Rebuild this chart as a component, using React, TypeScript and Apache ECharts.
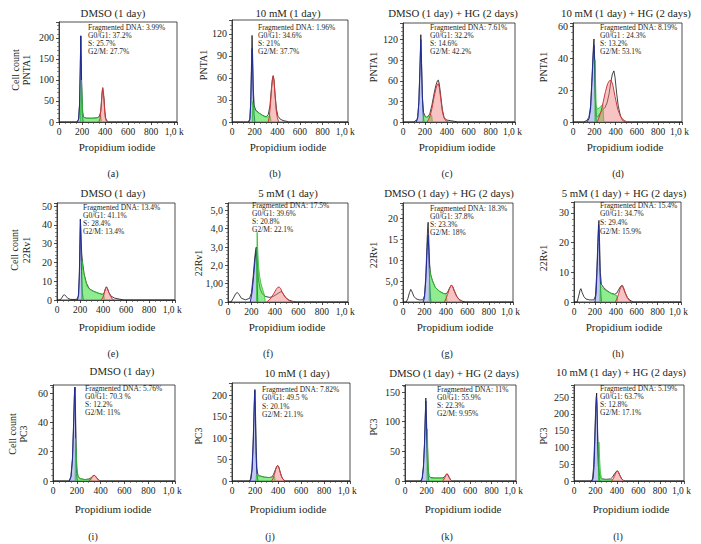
import React, { useEffect, useRef } from "react";
import * as echarts from "echarts";

// ---------------- DATA ----------------
const panelLetters = ["a", "b", "c", "d", "e", "f", "g", "h", "i", "j", "k", "l"];
const titles = [
  "DMSO (1 day)", "10 mM (1 day)", "DMSO (1 day) + HG (2 days)", "10 mM (1 day) + HG (2 days)",
  "DMSO (1 day)", "5 mM (1 day)", "DMSO (1 day) + HG (2 days)", "5 mM (1 day) + HG (2 days)",
  "DMSO (1 day)", "10 mM (1 day)", "DMSO (1 day) + HG (2 days)", "10 mM (1 day) + HG (2 days)",
];
const yNames = [
  "Cell count\nPNTA1", "PNTA1", "PNTA1", "PNTA1",
  "Cell count\n22Rv1", "22Rv1", "22Rv1", "22Rv1",
  "Cell count\nPC3", "PC3", "PC3", "PC3",
];
const xName = "Propidium iodide";
const fragmented = ["3.99%", "1.96%", "7.61%", "8.19%", "13.4%", "17.5%", "18.3%", "15.4%", "5.76%", "7.82%", "11%", "5.19%"];
const g0g1 = ["37.2%", "34.6%", "32.2%", "24.3%", "41.1%", "39.6%", "37.8%", "34.7%", "70.3 %", "49.5 %", "55.9%", "63.7%"];
const g0g1Sep = [": ", ": ", ": ", " : ", ": ", ": ", ": ", ": ", ": ", ": ", ": ", ": "];
const sPhase = ["25.7%", "21%", "14.6%", "13.2%", "28.4%", "20.8%", "23.3%", "29.4%", "12.2%", "20.1%", "22.3%", "12.8%"];
const g2m = ["27.7%", "37.7%", "42.2%", "53.1%", "13.4%", "22.1%", "18%", "15.9%", "11%", "21.1%", "9.95%", "17.1%"];

const xTickLabels = ["0", "200", "400", "600", "800", "1,0 k"];
const xMax = 1024;
const xInterval = 200;
const yMax = [238, 139, 144, 62, 51.6, 5.4, 23.6, 33.7, 65.5, 228, 162, 286];
const yInterval = [50, 30, 30, 20, 10, 1, 5, 10, 20, 50, 50, 50];
const yTickLabels = [
  ["0", "50", "100", "150", "200"],
  ["0", "30", "60", "90", "120"],
  ["0", "30", "60", "90", "120"],
  ["0", "20", "40", "60"],
  ["0", "10", "20", "30", "40", "50"],
  ["0", "1,00", "2,0", "3,0", "4,0", "5,0"],
  ["0", "5,0", "10", "15", "20"],
  ["0", "10", "20", "30"],
  ["0", "20", "40", "60"],
  ["0", "50", "100", "150", "200"],
  ["0", "50", "100", "150"],
  ["0", "50", "100", "150", "200", "250"],
];

// (a)
const aTotal = [[0,0],[150,0],[168,4],[178,40],[184,120],[189,205],[194,130],[199,60],[205,22],[215,11],[240,9],[290,9],[330,10],[350,13],[362,25],[370,55],[378,80],[384,80],[391,55],[398,25],[406,8],[418,2],[430,0],[1024,0]];
const aG1 = [[158,0],[172,8],[180,50],[185,130],[189,205],[193,140],[197,70],[202,20],[210,0]];
const aS = [[186,0],[190,60],[194,100],[199,70],[204,30],[212,13],[225,10],[260,9],[300,9],[330,10],[350,12],[362,16],[368,0]];
const aG2 = [[345,0],[356,8],[366,35],[374,70],[380,82],[386,72],[393,40],[401,12],[410,3],[420,0]];
// (b)
const bTotal = [[0,0],[145,0],[158,4],[166,30],[172,80],[177,118],[182,90],[188,45],[196,22],[210,16],[240,12],[270,9],[300,7],[320,10],[335,22],[348,45],[358,60],[364,63],[371,57],[380,38],[392,18],[405,8],[425,4],[450,2],[480,1],[500,0],[1024,0]];
const bG1 = [[148,0],[158,4],[166,28],[172,70],[177,100],[181,85],[187,40],[195,10],[202,0]];
const bS = [[180,0],[183,28],[190,20],[205,16],[230,13],[260,10],[290,7],[315,7],[335,9],[345,0]];
const bG2 = [[320,0],[330,8],[340,25],[350,48],[358,60],[364,63],[371,56],[380,36],[390,16],[400,6],[412,0]];
// (c)
const cTotal = [[0,0],[100,0],[112,2],[125,2],[135,8],[145,30],[155,80],[163,127],[170,85],[178,35],[188,14],[200,9],[215,7],[230,8],[245,12],[265,25],[285,42],[300,53],[315,60],[323,61],[332,55],[345,38],[360,18],[375,7],[395,3],[430,2],[470,1],[500,0],[1024,0]];
const cG1 = [[120,0],[135,6],[145,28],[155,75],[163,120],[169,85],[176,40],[184,12],[192,0]];
const cS = [[182,0],[185,10],[195,8],[215,7],[235,8],[250,9],[262,10],[268,0]];
const cG2 = [[220,0],[235,4],[250,10],[265,20],[285,37],[300,48],[312,54],[322,56],[332,50],[345,34],[358,17],[372,7],[390,2],[410,0]];
// (d)
const dTotal = [[0,0],[100,0],[130,1],[150,3],[165,10],[180,30],[190,45],[197,52],[203,40],[210,15],[218,4],[230,3],[250,5],[270,7],[300,9],[320,12],[340,18],[355,25],[370,30],[384,32],[395,28],[410,18],[425,10],[445,4],[465,1],[490,0],[1024,0]];
const dG1 = [[130,0],[150,2],[165,8],[178,25],[190,42],[197,48],[203,35],[210,15],[218,0]];
const dS = [[206,0],[208,39],[212,25],[218,10],[230,8],[250,9],[265,10],[280,11],[290,0]];
const dG2 = [[228,0],[245,3],[265,7],[285,13],[305,19],[325,24],[345,26],[360,26],[375,23],[395,16],[420,8],[450,3],[480,1],[510,0]];
// (e)
const eTotal = [[0,0],[25,0],[40,1],[55,2.5],[65,2.8],[78,2],[95,0.8],[120,0.3],[170,0.3],[185,2],[193,12],[199,30],[203,43],[208,35],[214,25],[222,20],[235,14],[255,9],[280,6],[320,4.5],[360,3.5],[395,3],[410,4],[420,6],[429,7],[438,6],[450,4],[470,2],[500,1],[540,0.5],[580,0],[1024,0]];
const eG1 = [[178,0],[188,3],[195,15],[200,33],[203,43],[207,33],[213,15],[220,4],[228,0]];
const eS = [[214,0],[217,21],[225,17],[240,12],[262,7],[300,5],[350,4],[390,3],[405,3],[412,0]];
const eG2 = [[380,0],[395,1],[408,3],[420,6],[429,7],[438,6],[450,4],[465,2],[480,0.5],[495,0]];
// (f)
const fTotal = [[0,0],[25,0],[45,0.2],[65,0.45],[80,0.52],[95,0.4],[115,0.2],[150,0.12],[185,0.2],[200,0.5],[215,1.4],[228,2.4],[238,2.95],[243,3.0],[250,2.2],[260,1.2],[275,0.7],[292,0.45],[320,0.3],[355,0.25],[385,0.3],[410,0.4],[435,0.5],[455,0.58],[470,0.45],[490,0.25],[520,0.1],[560,0.02],[580,0],[1024,0]];
const fG1 = [[190,0],[205,0.5],[220,1.5],[232,2.4],[240,2.8],[246,2.5],[250,1.0],[254,0]];
const fS = [[243,0],[246,2.5],[249,3.8],[253,3.0],[260,2.0],[270,1.4],[282,1.0],[295,0.7],[310,0.4],[318,0]];
const fG2 = [[330,0],[350,0.1],[370,0.25],[390,0.45],[410,0.68],[425,0.8],[436,0.82],[448,0.75],[462,0.55],[480,0.35],[500,0.18],[525,0.06],[560,0]];
// (g)
const gTotal = [[0,0],[30,0],[45,0.8],[60,2.2],[72,3.0],[85,2.4],[100,1.4],[120,0.8],[150,0.5],[185,0.5],[200,1.5],[212,6],[222,13],[230,18],[234,19],[240,15],[248,9],[258,6.5],[275,5],[300,3.5],[340,2.5],[380,2],[405,2],[420,2.6],[435,3.4],[450,4],[462,3.6],[480,2.4],[500,1.3],[525,0.6],[550,0.2],[580,0],[1024,0]];
const gG1 = [[188,0],[200,1],[212,5],[222,11],[230,15.5],[234,16],[240,12],[248,5],[256,1],[262,0]];
const gS = [[244,0],[248,8],[258,6.4],[275,5],[300,3.5],[340,2.6],[380,2],[400,2],[410,0]];
const gG2 = [[385,0],[400,0.8],[415,1.8],[430,3],[445,3.9],[455,4],[465,3.6],[480,2.6],[500,1.4],[520,0.6],[545,0]];
// (h)
const hTotal = [[0,0],[30,0],[45,2],[58,4],[66,4.5],[78,3.2],[95,1.8],[115,1],[150,0.7],[190,0.7],[205,2],[218,10],[228,20],[235,26.5],[239,27.5],[245,20],[252,10],[262,6],[280,5],[310,4],[350,3],[390,2.6],[410,3],[425,4],[445,5.2],[458,5.5],[470,4.8],[490,3],[510,1.5],[535,0.6],[565,0],[1024,0]];
const hG1 = [[200,0],[212,3],[222,12],[230,20],[236,26],[241,22],[247,12],[255,4],[262,0]];
const hS = [[248,0],[252,6],[262,5],[280,4.5],[310,3.8],[350,3],[390,2.4],[410,2.2],[418,0]];
const hG2 = [[395,0],[410,1],[425,2.5],[440,4.3],[455,5.5],[465,5.6],[475,4.8],[492,3],[510,1.5],[530,0.5],[550,0]];
// (i)
const iTotal = [[0,0],[135,0],[150,3],[163,15],[173,40],[180,60],[184,64],[189,48],[194,22],[200,8],[210,3],[230,1.5],[270,1],[300,1.3],[320,2.3],[335,3.5],[345,3.9],[355,3.4],[370,1.8],[385,0.6],[400,0],[1024,0]];
const iG1 = [[138,0],[152,3],[164,15],[174,40],[180,58],[184,64],[188,45],[192,20],[198,5],[204,0]];
const iS = [[186,0],[189,29],[194,22],[200,10],[210,3],[225,1.8],[260,1],[300,1.2],[315,1.6],[322,0]];
const iG2 = [[300,0],[312,0.8],[325,2.2],[337,3.5],[345,3.9],[355,3.4],[368,2],[382,0.6],[395,0]];
// (j)
const jTotal = [[0,0],[150,0],[160,4],[172,25],[182,80],[190,150],[196,205],[199,213],[204,160],[210,80],[216,30],[224,15],[240,12],[280,9],[320,8],[345,9],[360,15],[375,25],[388,34],[397,36],[407,32],[420,18],[435,7],[450,2],[465,0],[1024,0]];
const jG1 = [[155,0],[165,5],[176,30],[186,100],[193,175],[198,210],[203,150],[209,60],[216,15],[226,0]];
const jS = [[208,0],[212,14],[222,12],[245,11],[280,9],[320,8],[350,9],[368,10],[375,0]];
const jG2 = [[342,0],[355,5],[368,15],[380,28],[390,34],[397,36],[405,33],[415,24],[428,12],[442,4],[458,0]];
// (k)
const kTotal = [[0,0],[145,0],[158,5],[170,25],[180,65],[187,110],[192,140],[196,120],[201,85],[207,60],[213,25],[220,9],[235,6],[270,5],[310,5],[345,5],[360,6],[372,9],[385,12],[395,11],[408,6],[420,2],[435,0],[1024,0]];
const kG1 = [[150,0],[160,5],[170,22],[180,60],[187,105],[192,135],[196,105],[202,55],[210,15],[220,0]];
const kS = [[203,0],[206,88],[210,55],[215,20],[222,8],[240,5],[280,5],[320,5],[350,5],[358,0]];
const kG2 = [[345,0],[357,2],[368,6],[378,10],[387,12],[396,10],[407,6],[420,2],[433,0]];
// (l)
const lTotal = [[0,0],[160,0],[172,6],[182,40],[192,120],[200,200],[207,250],[211,262],[216,200],[222,120],[228,60],[235,25],[245,10],[260,6],[300,5],[340,6],[360,12],[378,22],[395,29],[405,30],[415,25],[430,14],[445,6],[460,2],[475,0],[1024,0]];
const lG1 = [[168,0],[178,8],[188,50],[196,140],[203,210],[209,250],[213,230],[219,140],[226,50],[235,10],[244,0]];
const lS = [[228,0],[232,116],[238,70],[245,30],[255,10],[266,5],[300,4],[340,4],[358,4],[365,0]];
const lG2 = [[350,0],[362,5],[375,13],[388,23],[398,29],[406,30],[415,26],[428,16],[442,7],[456,2],[470,0]];

const totals = [aTotal, bTotal, cTotal, dTotal, eTotal, fTotal, gTotal, hTotal, iTotal, jTotal, kTotal, lTotal];
const g1s = [aG1, bG1, cG1, dG1, eG1, fG1, gG1, hG1, iG1, jG1, kG1, lG1];
const ss = [aS, bS, cS, dS, eS, fS, gS, hS, iS, jS, kS, lS];
const g2s = [aG2, bG2, cG2, dG2, eG2, fG2, gG2, hG2, iG2, jG2, kG2, lG2];

// ---------------- LAYOUT ----------------
const gridRects = [
  [59, 22, 177, 122], [232, 20, 348, 122], [403, 23, 515, 122], [573, 23, 682, 122],
  [57, 203, 175, 300], [228, 203, 348, 302], [403, 203, 513, 302], [574, 202, 681, 302],
  [53, 385, 175, 481], [232, 383, 350, 481], [405, 385, 516, 481], [574, 385, 684, 481],
];
const titlePos = [[113, 13], [288, 13], [453, 13], [626, 13], [113, 193], [288, 193], [449, 193], [624, 193], [122, 371], [297, 373], [454, 373], [621, 372]];
const yNamePos = [[21, 70], [203, 65], [373, 67], [543, 67], [20.5, 250], [198, 263], [373, 255], [543, 258], [18, 434], [198, 436], [373, 427], [543, 436]];
const xNamePos = [[117, 147], [288, 147], [457, 147], [625, 147], [117, 327], [287, 327], [455, 327], [624, 327], [113, 509], [288, 509], [463, 509], [631, 509]];
const subPos = [[113, 173], [275, 173], [447, 173], [618, 173], [113, 353], [268, 353], [447, 353], [618, 353], [93, 536], [270, 536], [447, 536], [618, 536]];
const notePos = [[88, 27.7], [258, 27.2], [430, 27.2], [600, 27], [83, 207.8], [252, 205], [430, 208], [600, 205], [85, 388], [262, 389], [437, 389], [600, 388]];
const noteLH = [8, 8, 8, 8, 8, 8, 8, 8.8, 8, 8.5, 8, 8];

const FONT = "'Liberation Serif', 'DejaVu Serif', 'Times New Roman', serif";
const INK = "#231f20";

function txt(x: number, y: number, text: string, size: number, o: any = {}) {
  const align = o.align || "center";
  const va = o.va || "middle";
  return {
    type: "text",
    x,
    y,
    rotation: o.rotation || 0,
    silent: true,
    z: 10,
    style: {
      text,
      fontSize: size,
      fontFamily: FONT,
      fill: INK,
      align,
      verticalAlign: va,
      textAlign: align,
      textVerticalAlign: va,
      lineHeight: o.lh || size * 1.1,
    },
  };
}

function buildOption() {
  const grid: any[] = [];
  const xAxis: any[] = [];
  const yAxis: any[] = [];
  const series: any[] = [];
  const graphic: any[] = [];

  for (let i = 0; i < 12; i++) {
    const [l, t, r, b] = gridRects[i];
    grid.push({
      left: l, top: t, width: r - l, height: b - t,
      show: true, borderColor: "#222", borderWidth: 0.8, backgroundColor: "transparent",
    });
    xAxis.push({
      type: "value", gridIndex: i, min: 0, max: xMax, interval: xInterval,
      axisLine: { show: true, onZero: false, lineStyle: { color: "#222", width: 0.8 } },
      axisTick: { show: true, inside: false, length: 3, lineStyle: { color: "#222", width: 0.8 } },
      minorTick: { show: true, splitNumber: 4, length: 2, lineStyle: { color: "#444", width: 0.6 } },
      splitLine: { show: false },
      axisLabel: {
        fontSize: 9.5, fontFamily: FONT, color: INK, margin: 5,
        formatter: (v: number) => {
          const k = v / xInterval;
          return Math.abs(k - Math.round(k)) < 1e-6 && xTickLabels[Math.round(k)] !== undefined ? xTickLabels[Math.round(k)] : "";
        },
      },
    });
    const yi = yInterval[i];
    const labels = yTickLabels[i];
    yAxis.push({
      type: "value", gridIndex: i, min: 0, max: yMax[i], interval: yi,
      axisLine: { show: true, lineStyle: { color: "#222", width: 0.8 } },
      axisTick: { show: true, inside: false, length: 3, lineStyle: { color: "#222", width: 0.8 } },
      minorTick: { show: true, splitNumber: 5, length: 2, lineStyle: { color: "#444", width: 0.6 } },
      splitLine: { show: false },
      axisLabel: {
        fontSize: 10, fontFamily: FONT, color: INK, margin: 5,
        formatter: (v: number) => {
          const k = v / yi;
          const rk = Math.round(k);
          return Math.abs(k - rk) < 1e-6 && labels[rk] !== undefined ? labels[rk] : "";
        },
      },
    });

    const common = { xAxisIndex: i, yAxisIndex: i, type: "line", symbol: "none", showSymbol: false, silent: true, smooth: false, animation: false };
    series.push({ ...common, data: totals[i], z: 2, lineStyle: { color: "#111", width: 0.8 } });
    series.push({ ...common, data: g1s[i], z: 3, lineStyle: { color: "#1f2c95", width: 1 }, areaStyle: { color: "rgba(118,132,226,0.62)" } });
    series.push({ ...common, data: ss[i], z: 4, lineStyle: { color: "#2cbf2c", width: 0.8 }, areaStyle: { color: "rgba(60,222,60,0.82)" } });
    series.push({ ...common, data: g2s[i], z: 5, lineStyle: { color: "#cc3b3b", width: 1 }, areaStyle: { color: "rgba(240,118,118,0.62)" } });

    graphic.push(txt(titlePos[i][0], titlePos[i][1], titles[i], 10.8));
    graphic.push(txt(yNamePos[i][0], yNamePos[i][1], yNames[i], 10, { rotation: Math.PI / 2, lh: 11.5 }));
    graphic.push(txt(xNamePos[i][0], xNamePos[i][1], xName, 11));
    graphic.push(txt(subPos[i][0], subPos[i][1], "(" + panelLetters[i] + ")", 10));
    const noteLines = [
      "Fragmented DNA: " + fragmented[i],
      "G0/G1" + g0g1Sep[i] + g0g1[i],
      "S: " + sPhase[i],
      "G2/M: " + g2m[i],
    ];
    noteLines.forEach((line, k) => {
      graphic.push(txt(notePos[i][0], notePos[i][1] + k * noteLH[i], line, 7.5, { align: "left", va: "middle", lh: 7.5 }));
    });
  }

  return { animation: false, backgroundColor: "#ffffff", grid, xAxis, yAxis, series, graphic };
}

export default function App() {
  const ref = useRef<HTMLDivElement>(null);
  useEffect(() => {
    if (!ref.current) return;
    const chart = echarts.init(ref.current, undefined, { renderer: "svg" });
    chart.setOption(buildOption() as any);
    return () => chart.dispose();
  }, []);
  return (
    <div
      ref={ref}
      style={{ position: "absolute", left: 0, top: 0, width: 701, height: 544, background: "#fff" }}
    />
  );
}
